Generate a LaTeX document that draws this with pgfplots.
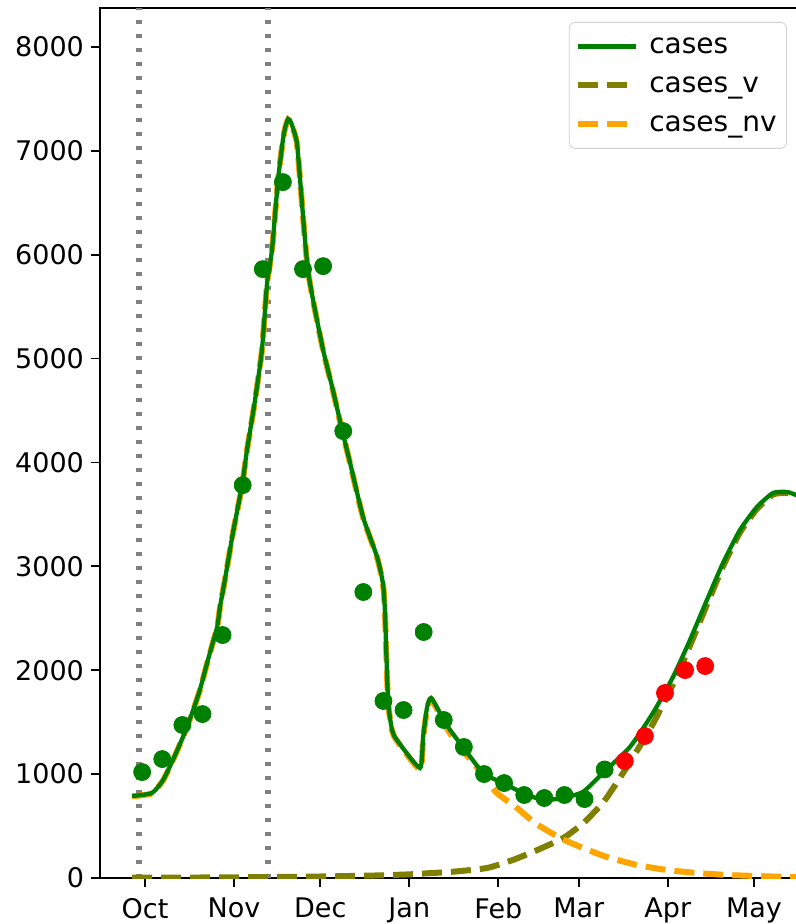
\documentclass[border=0pt]{standalone}
\usepackage{pgfplots}
\pgfplotsset{compat=1.18}
\usepackage{fontspec}
\setmainfont{DejaVu Sans}
\definecolor{mplgreen}{HTML}{008000}
\definecolor{mplolive}{HTML}{808000}
\definecolor{mplorange}{HTML}{FFA500}
\definecolor{mplgray}{HTML}{808080}
\definecolor{mplred}{HTML}{FF0000}

% x = days after 1 Oct
\begin{document}
\begin{tikzpicture}
\begin{axis}[
    name=ax,
    scale only axis,
    width=350pt, height=435pt,
    xmin=-15.67, xmax=228.0,
    ymin=0, ymax=8375,
    xtick={0,31,61,92,123,151,182,212},
    xticklabels={Oct,Nov,Dec,Jan,Feb,Mar,Apr,May},
    ytick={0,1000,2000,3000,4000,5000,6000,7000,8000},
    scaled y ticks=false,
    tick pos=left,
    tick align=outside,
    major tick length=4.5pt,
    every tick/.style={black, line width=0.9pt},
    axis line style={line width=0.9pt},
    /pgf/number format/assume math mode=true,
    /pgf/number format/1000 sep={},
    ticklabel style={font=\fontsize{13.5}{16}\selectfont},
    xticklabel style={yshift=-2pt},
    legend image code/.code={\draw[#1] (0pt,0pt) -- (29pt,0pt); \path (32pt,0pt);},
    legend style={
        at={(rel axis cs:0.9814,0.9839)}, anchor=north east,
        draw=black!18, rounded corners=3pt,
        fill=white, fill opacity=0.8, text opacity=1,
        font=\fontsize{14}{16}\selectfont,
        inner xsep=3pt, inner ysep=3.1pt,
        row sep=1.7pt,
        nodes={text height=10.5pt, text depth=3.3pt, inner ysep=2pt},
    },
    legend cell align=left,
]
\addlegendimage{mplgreen, line width=2.15pt}
\addlegendentry{cases}
\addlegendimage{mplolive, line width=3pt, dash pattern=on 10pt off 4.5pt}
\addlegendentry{cases\_v}
\addlegendimage{mplorange, line width=3pt, dash pattern=on 10pt off 4.5pt}
\addlegendentry{cases\_nv}

% vertical markers
\addplot[mplgray, line width=2.6pt, dash pattern=on 2.2pt off 4.8pt, forget plot]
    coordinates {(-2.1,0) (-2.1,8375)};
\addplot[mplgray, line width=2.6pt, dash pattern=on 2.2pt off 4.8pt, forget plot]
    coordinates {(42.8,0) (42.8,8375)};

% cases_v
\addplot[mplolive, line width=3pt, dash pattern=on 10pt off 4.5pt, smooth, tension=0.35, forget plot]
    coordinates {
    (-4.5,3)(30,6)(60,14)(80,24)(92,35)(98,45)(107,60)(119,96)(128,173)
    (136.6,270)(145.6,385)(152.6,529)(159.6,731)(165.5,972)(171.4,1232)
    (176.8,1483)(183.8,1865)(189.7,2236)(195.6,2631)(201.2,3000)(207.1,3325)
    (213,3552)(218.6,3692)(223.5,3706)(226.6,3678)(228,3662)
    };

% cases_nv
\addplot[mplorange, line width=3pt, dash pattern=on 10pt off 4.5pt, smooth, tension=0.35, forget plot]
    coordinates {
    (-4.5,786)(2.4,815)(6.3,940)(9.7,1133)(13.2,1354)(16.4,1585)(19.1,1807)
    (21.9,2096)(25.1,2413)(26.1,2606)(27.8,2866)(30.6,3318)(33.8,3780)
    (35.5,4117)(38.3,4598)(40.7,5080)(42.5,5725)(44.2,6042)(46.3,6716)
    (48.0,7100)(48.8,7220)(49.8,7302)(50.8,7270)(51.8,7190)(52.9,7071)
    (54.0,6715)(55.4,6234)(56.7,5849)
    (58.5,5560)(62.0,5079)(65.4,4694)(68.6,4309)(71.4,3990)(75.9,3470)
    (80.8,3085)(82.8,2835)(83.5,2575)(84.6,1708)(86.0,1418)(87.7,1320)
    (95.7,1045)(96.8,1340)(98.2,1630)(99.6,1720)(102.7,1570)(106.2,1390)
    (110.7,1225)(114.2,1110)(119,943)(122.5,818)(129.5,674)(135.8,529)
    (144.5,385)(152.5,289)(160.8,202)(171.3,125)(181.7,77)(192.2,48)
    (202.6,29)(213,19)(223.5,10)(228,8)
    };

% cases
\addplot[mplgreen, line width=2.15pt, smooth, tension=0.35, forget plot]
    coordinates {
    (-4.5,789)(2.4,818)(6.3,943)(9.7,1136)(13.2,1357)(16.4,1588)(19.1,1810)
    (21.9,2099)(25.1,2416)(26.1,2609)(27.8,2869)(30.6,3321)(33.8,3783)
    (35.5,4120)(38.3,4601)(40.7,5083)(42.5,5728)(44.2,6045)(46.3,6719)
    (48.0,7104)(48.8,7224)(49.8,7306)(50.8,7274)(51.8,7194)(52.9,7075)
    (54.0,6719)(55.4,6238)(56.7,5853)
    (58.5,5564)(62.0,5083)(65.4,4698)(68.6,4313)(71.4,3995)(75.9,3475)
    (80.8,3090)(82.8,2840)(83.5,2580)(84.6,1713)(86.0,1425)(87.7,1328)
    (95.7,1059)(96.8,1357)(98.2,1646)(99.6,1733)(102.7,1588)(106.2,1425)
    (110.7,1261)(117.7,1011)(124.6,914)(131.6,818)(138.5,751)(145.5,770)
    (152.5,830)(159.4,1011)(168.8,1261)(176.8,1588)(183.8,1935)(189.7,2291)
    (195.6,2676)(201.2,3032)(207.1,3350)(213.0,3571)(218.6,3706)(223.5,3716)
    (226.6,3687)(228,3670)
    };

% observed (green) and held-out (red) weekly points
\addplot[only marks, mark=*, mark size=4.25pt, mplgreen,
    mark options={draw=none, fill=mplgreen}, forget plot]
    coordinates {
    (-1,1020)(6,1145)(13,1473)(20,1578)(27,2339)(34,3782)(41,5861)(48,6699)
    (55,5861)(62,5890)(69,4302)(76,2753)(83,1704)(90,1617)(97,2368)(104,1521)
    (111,1261)(118,1001)(125,914)(132,799)(139,770)(146,799)(153,760)(160,1045)
    };
\addplot[only marks, mark=*, mark size=4.25pt, mplred,
    mark options={draw=none, fill=mplred}, forget plot]
    coordinates {
    (167,1126)(174,1367)(181,1781)(188,2002)(195,2040)
    };
\end{axis}
\pgfresetboundingbox
\path ([xshift=-50pt,yshift=-23pt]ax.south west) rectangle ([xshift=-2pt,yshift=4pt]ax.north east);
\end{tikzpicture}
\end{document}
